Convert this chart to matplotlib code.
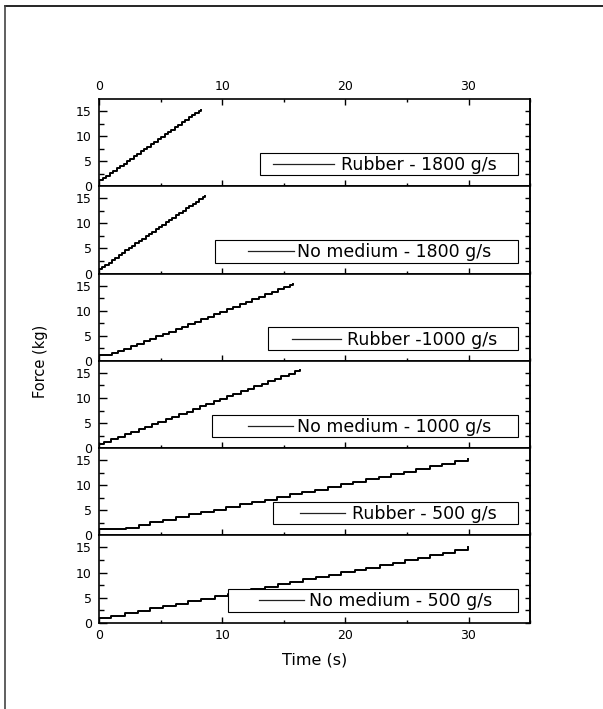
import matplotlib
matplotlib.use("Agg")
import matplotlib.pyplot as plt
from matplotlib.patches import Rectangle
from matplotlib.lines import Line2D
from matplotlib.ticker import MultipleLocator

plt.rcParams['font.family'] = ['DejaVu Sans']

# ---------------- data ----------------
labels = ["Rubber - 1800 g/s", "No medium - 1800 g/s", "Rubber -1000 g/s",
          "No medium - 1000 g/s", "Rubber - 500 g/s", "No medium - 500 g/s"]

t1 = [0, 0.3, 0.58, 0.86, 1.13, 1.41, 1.69, 1.97, 2.25, 2.52, 2.8, 3.08, 3.36,
      3.64, 3.91, 4.19, 4.47, 4.75, 5.03, 5.3, 5.58, 5.86, 6.14, 6.42, 6.69,
      6.97, 7.25, 7.53, 7.81, 8.08, 8.3]
f1 = [1.2, 1.6, 2.1, 2.6, 3.1, 3.6, 4.1, 4.5, 5.0, 5.5, 6.0, 6.5, 7.0, 7.4, 7.9,
      8.4, 8.9, 9.4, 9.9, 10.4, 10.8, 11.3, 11.8, 12.3, 12.8, 13.3, 13.8, 14.2,
      14.6, 15.0, 15.3]

t2 = [0, 0.2, 0.47, 0.75, 1.02, 1.3, 1.57, 1.84, 2.12, 2.39, 2.66, 2.94, 3.21,
      3.48, 3.76, 4.03, 4.3, 4.58, 4.85, 5.12, 5.4, 5.67, 5.94, 6.22, 6.49, 6.76,
      7.04, 7.31, 7.58, 7.86, 8.13, 8.4, 8.6]
f2 = [0.9, 1.3, 1.8, 2.2, 2.7, 3.2, 3.6, 4.1, 4.6, 5.0, 5.5, 6.0, 6.4, 6.9, 7.4,
      7.8, 8.3, 8.8, 9.2, 9.7, 10.2, 10.6, 11.1, 11.6, 12.0, 12.5, 13.0, 13.4,
      13.9, 14.3, 14.8, 15.2, 15.5]

t3 = [0, 1.0, 1.5, 2.0, 2.55, 3.05, 3.6, 4.1, 4.6, 5.15, 5.65, 6.2, 6.7, 7.2,
      7.75, 8.25, 8.8, 9.3, 9.8, 10.35, 10.85, 11.4, 11.9, 12.4, 12.95, 13.45,
      14.0, 14.5, 15.0, 15.5, 15.7]
f3 = [1.2, 1.5, 1.9, 2.4, 2.9, 3.4, 3.9, 4.4, 4.9, 5.4, 5.8, 6.3, 6.8, 7.3, 7.8,
      8.3, 8.8, 9.3, 9.8, 10.3, 10.8, 11.3, 11.8, 12.3, 12.8, 13.3, 13.8, 14.3,
      14.8, 15.1, 15.3]

t4 = [0, 0.4, 0.95, 1.5, 2.1, 2.6, 3.2, 3.7, 4.3, 4.8, 5.4, 5.9, 6.5, 7.1, 7.6,
      8.2, 8.7, 9.3, 9.8, 10.4, 10.9, 11.5, 12.1, 12.6, 13.2, 13.7, 14.3, 14.8,
      15.4, 15.9, 16.3]
f4 = [0.9, 1.3, 1.8, 2.3, 2.8, 3.3, 3.8, 4.3, 4.8, 5.3, 5.8, 6.3, 6.8, 7.3, 7.8,
      8.3, 8.8, 9.3, 9.8, 10.3, 10.8, 11.3, 11.8, 12.3, 12.8, 13.3, 13.8, 14.3,
      14.8, 15.3, 15.6]

t5 = [0, 2.2, 3.2, 4.15, 5.18, 6.26, 7.29, 8.29, 9.3, 10.33, 11.4, 12.44, 13.44,
      14.47, 15.47, 16.5, 17.5, 18.6, 19.6, 20.6, 21.65, 22.7, 23.74, 24.74,
      25.77, 26.86, 27.86, 28.9, 29.97]
f5 = [1.2, 1.53, 2.07, 2.67, 3.13, 3.67, 4.2, 4.67, 5.13, 5.6, 6.2, 6.67, 7.13,
      7.67, 8.2, 8.67, 9.13, 9.67, 10.2, 10.67, 11.2, 11.67, 12.2, 12.73, 13.2,
      13.8, 14.33, 14.8, 15.2]

t6 = [0, 0.98, 2.06, 3.14, 4.09, 5.18, 6.26, 7.2, 8.29, 9.38, 10.46, 11.4, 12.36,
      13.44, 14.5, 15.47, 16.56, 17.64, 18.7, 19.67, 20.76, 21.7, 22.79, 23.87,
      24.82, 25.9, 26.86, 27.94, 28.89, 29.97]
f6 = [0.9, 1.4, 1.9, 2.4, 2.9, 3.3, 3.8, 4.3, 4.8, 5.3, 5.8, 6.3, 6.8, 7.2, 7.7,
      8.2, 8.7, 9.1, 9.6, 10.1, 10.6, 11.0, 11.5, 12.0, 12.5, 12.9, 13.4, 13.9,
      14.5, 15.0]

series = [(t1, f1), (t2, f2), (t3, f3), (t4, f4), (t5, f5), (t6, f6)]

x_ticks = [0, 10, 20, 30]
y_ticks = [0, 5, 10, 15]

# ---------------- layout / style ----------------
# legend box layout per panel (axes fraction): box left, handle start, handle end, text start
key_layout = [
    (0.3735, 0.404, 0.545, 0.561),
    (0.268, 0.346, 0.452, 0.459),
    (0.392, 0.448, 0.561, 0.575),
    (0.262, 0.346, 0.450, 0.459),
    (0.404, 0.466, 0.571, 0.587),
    (0.299, 0.371, 0.476, 0.487),
]
BOX_RIGHT, BOX_BOTTOM, BOX_TOP = 0.972, 0.126, 0.385

fig = plt.figure(figsize=(6.03, 7.09), dpi=100)
axes = fig.subplots(6, 1, sharex=True, gridspec_kw=dict(hspace=0))
fig.subplots_adjust(left=0.1647, right=0.879, top=0.8604, bottom=0.1217)


def draw_key(ax, label, layout):
    box_left, hx0, hx1, tx = layout
    rect = Rectangle((box_left, BOX_BOTTOM), BOX_RIGHT - box_left, BOX_TOP - BOX_BOTTOM,
                     transform=ax.transAxes, facecolor='white', edgecolor='black',
                     lw=0.8, zorder=5)
    ax.add_patch(rect)
    ymid = (BOX_BOTTOM + BOX_TOP) / 2
    ax.add_line(Line2D([hx0, hx1], [ymid, ymid], transform=ax.transAxes,
                       color='#222222', lw=0.9, zorder=6))
    ax.text(tx, ymid - 0.012, label, transform=ax.transAxes, va='center', ha='left',
            fontsize=12.5, zorder=6)


for i, (ax, (t, f), lab) in enumerate(zip(axes, series, labels)):
    ax.plot(t, f, drawstyle='steps-post', color='black', lw=1.4, zorder=2)
    ax.set_xlim(0, 35)
    ax.set_ylim(0, 17.4)
    ax.set_xticks(x_ticks)
    ax.xaxis.set_minor_locator(MultipleLocator(5))
    ax.set_yticks(y_ticks)
    ax.yaxis.set_minor_locator(MultipleLocator(2.5))
    for s in ax.spines.values():
        s.set_linewidth(1.2)
    ax.tick_params(axis='both', which='both', direction='in', labelsize=9, width=1.0)
    ax.tick_params(axis='y', which='major', length=5.8, pad=5.5, left=True, right=False)
    ax.tick_params(axis='y', which='minor', length=3.6, left=True, right=False)
    ax.tick_params(axis='x', which='major', length=4.3, pad=4.5)
    ax.tick_params(axis='x', which='minor', length=2.2)
    first = (i == 0)
    last = (i == len(axes) - 1)
    ax.tick_params(axis='x', which='both', top=first, labeltop=first,
                   bottom=True, labelbottom=last)
    sec = ax.secondary_yaxis('right')
    sec.set_yticks(y_ticks)
    sec.yaxis.set_minor_locator(MultipleLocator(2.5))
    sec.tick_params(which='both', direction='in', length=3.6, width=1.0, labelright=False)
    sec.spines['right'].set_linewidth(1.2)
    draw_key(ax, lab, key_layout[i])

fig.text((99.3 + 530) / 2 / 603, 1 - 660 / 709, "Time (s)", ha='center', va='center',
         fontsize=11.5)
fig.text(40 / 603, 1 - 361 / 709, "Force (kg)", ha='center', va='center',
         rotation=90, fontsize=10.5)

# outer frame (top and left edges visible)
fig.add_artist(Line2D([0.0075, 1.0], [0.9922, 0.9922], transform=fig.transFigure,
                      color='black', lw=1.2))
fig.add_artist(Line2D([0.0075, 0.0075], [0.0, 0.9922], transform=fig.transFigure,
                      color='#444444', lw=1.2))

fig.savefig("out.png", dpi=100)
